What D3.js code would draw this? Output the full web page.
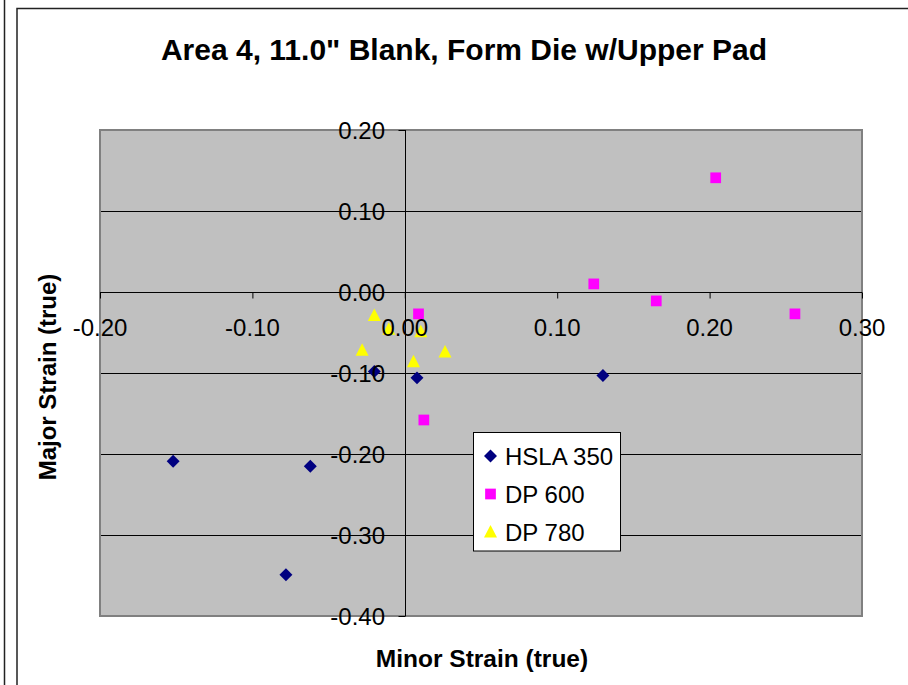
<!DOCTYPE html>
<html><head><meta charset="utf-8">
<script src="https://cdn.jsdelivr.net/npm/d3@7"></script>
<style>html,body{margin:0;padding:0;background:#fff;}svg{display:block;}</style>
</head><body>
<script>
const title = 'Area 4, 11.0" Blank, Form Die w/Upper Pad';
const xTitle = "Minor Strain (true)";
const yTitle = "Major Strain (true)";
const xTicks = [-0.20, -0.10, 0.00, 0.10, 0.20, 0.30];
const yTicks = [0.20, 0.10, 0.00, -0.10, -0.20, -0.30, -0.40];
const seriesNames = ["HSLA 350", "DP 600", "DP 780"];
const hslaX = [-0.152, -0.062, -0.078, -0.020, 0.008, 0.130];
const hslaY = [-0.209, -0.215, -0.349, -0.098, -0.106, -0.103];
const dp600X = [0.204, 0.124, 0.165, 0.256, 0.009, 0.0125];
const dp600Y = [0.141, 0.010, -0.011, -0.027, -0.027, -0.158];
const dp780X = [-0.020, -0.0105, 0.0105, -0.028, 0.0264, 0.0057];
const dp780Y = [-0.029, -0.046, -0.049, -0.072, -0.074, -0.086];

const W = 908, H = 685;
const P = {l: 100, r: 862, t: 130, b: 616};
const FONT = "Liberation Sans, Arial, sans-serif";
const svg = d3.select("body").append("svg").attr("width", W).attr("height", H);
svg.append("rect").attr("width", W).attr("height", H).attr("fill", "#fff");
// outer frames
svg.append("line").attr("x1", 4.5).attr("x2", 4.5).attr("y1", 0).attr("y2", H).attr("stroke", "#222").attr("stroke-width", 1.5);
svg.append("rect").attr("x", 17).attr("y", 8.5).attr("width", 1000).attr("height", 1000)
  .attr("fill", "none").attr("stroke", "#222").attr("stroke-width", 1.5);

const x = d3.scaleLinear().domain([-0.2, 0.3]).range([P.l, P.r]);
const y = d3.scaleLinear().domain([-0.4, 0.2]).range([P.b, P.t]);

svg.append("rect").attr("x", P.l).attr("y", P.t).attr("width", P.r - P.l).attr("height", P.b - P.t)
  .attr("fill", "#C0C0C0");
// gridlines
svg.append("g").selectAll("line").data(yTicks).join("line")
  .attr("x1", P.l).attr("x2", P.r).attr("y1", d => Math.round(y(d)) + 0.5).attr("y2", d => Math.round(y(d)) + 0.5)
  .attr("stroke", "#000").attr("stroke-width", 1);
svg.append("rect").attr("x", P.l).attr("y", P.t).attr("width", P.r - P.l).attr("height", P.b - P.t)
  .attr("fill", "none").attr("stroke", "#808080").attr("stroke-width", 2);

// axes (no labels yet)
const x0 = Math.round(x(0)) + 0.5, y0 = Math.round(y(0)) + 0.5;
const xAxis = d3.axisBottom(x).tickValues(xTicks).tickSize(6).tickFormat("");
const yAxis = d3.axisLeft(y).tickValues(yTicks).tickSize(7).tickFormat("");
const gx = svg.append("g").attr("transform", `translate(0,${y0})`).call(xAxis);
const gy = svg.append("g").attr("transform", `translate(${x0},0)`).call(yAxis);
[gx, gy].forEach(g => { g.select(".domain").attr("stroke", "#000").attr("stroke-width", 1); g.selectAll(".tick line").attr("stroke", "#000"); });
gx.select(".domain").attr("d", `M${P.l},0H${P.r}`);
gy.select(".domain").attr("d", `M0,${P.t}V${P.b}`);

// points
const sym = (type, size) => d3.symbol().type(type).size(size)();
const diamond = d3.symbol().type(d3.symbolSquare).size(84)();
const square = sym(d3.symbolSquare, 115);
svg.append("g").selectAll("path").data(hslaX.map((v, i) => [v, hslaY[i]])).join("path")
  .attr("d", diamond).attr("transform", d => `translate(${x(d[0])},${y(d[1])}) rotate(45)`).attr("fill", "#000080");
svg.append("g").selectAll("path").data(dp600X.map((v, i) => [v, dp600Y[i]])).join("path")
  .attr("d", square).attr("transform", d => `translate(${x(d[0])},${y(d[1])})`).attr("fill", "#FF00FF");
const tri = "M0,-7L6.5,5.5L-6.5,5.5Z";
svg.append("g").selectAll("path").data(dp780X.map((v, i) => [v, dp780Y[i]])).join("path")
  .attr("d", tri).attr("transform", d => `translate(${x(d[0])},${y(d[1])})`).attr("fill", "#FFFF00");

// tick labels (drawn over points)
const fmt = v => d3.format(".2f")(v).replace("\u2212", "-");
svg.append("g").selectAll("text").data(xTicks).join("text")
  .attr("x", d => x(d)).attr("y", y0 + 43).attr("text-anchor", "middle")
  .attr("font-family", FONT).attr("font-size", 24).attr("fill", "#000")
  .text(d => fmt(d));
svg.append("g").selectAll("text").data(yTicks).join("text")
  .attr("x", 385).attr("y", d => y(d) + 8.5).attr("text-anchor", "end")
  .attr("font-family", FONT).attr("font-size", 24).attr("fill", "#000")
  .text(d => fmt(d));

// titles
svg.append("text").attr("x", 464).attr("y", 60).attr("text-anchor", "middle")
  .attr("font-family", FONT).attr("font-weight", "bold").attr("font-size", 30)
  .text(title);
svg.append("text").attr("x", 482).attr("y", 667).attr("text-anchor", "middle")
  .attr("font-family", FONT).attr("font-weight", "bold").attr("font-size", 24.5)
  .text(xTitle);
svg.append("text").attr("transform", "translate(56,377) rotate(-90)").attr("text-anchor", "middle")
  .attr("font-family", FONT).attr("font-weight", "bold").attr("font-size", 24)
  .text(yTitle);

// legend
const lg = svg.append("g");
lg.append("rect").attr("x", 473.5).attr("y", 432.5).attr("width", 147).attr("height", 118.5)
  .attr("fill", "#fff").attr("stroke", "#000").attr("stroke-width", 1);
const markers = [
  {d: diamond, rot: 45, fill: "#000080"},
  {d: square, rot: 0, fill: "#FF00FF"},
  {d: tri, rot: 0, fill: "#FFFF00"}
];
seriesNames.forEach((n, i) => {
  const cy = 456 + i * 38;
  lg.append("path").attr("d", markers[i].d).attr("transform", `translate(490.5,${cy}) rotate(${markers[i].rot})`).attr("fill", markers[i].fill);
  lg.append("text").attr("x", 505).attr("y", cy + 8.5)
    .attr("font-family", FONT).attr("font-size", 24).text(n);
});
</script>
</body></html>
